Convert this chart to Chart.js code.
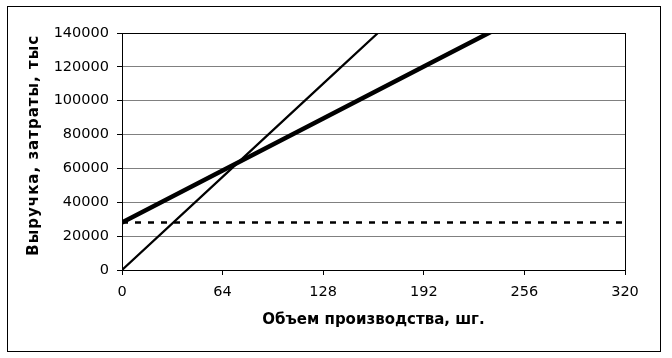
<!DOCTYPE html>
<html>
<head>
<meta charset="utf-8">
<script src="https://cdn.jsdelivr.net/npm/chart.js@4"></script>
<style>
  html, body { margin: 0; padding: 0; background: #fff; }
  #wrap { position: relative; width: 672px; height: 358px; }
  #frame { position: absolute; left: 7px; top: 6px; width: 654px; height: 346px; box-sizing: border-box; border: 1px solid #000; pointer-events: none; }
  canvas { position: absolute; left: 0; top: 0; }
</style>
</head>
<body>
<div id="wrap">
  <canvas id="chart" width="672" height="358"></canvas>
  <div id="frame"></div>
</div>
<script>
// --- Data ---
const VOLUME = [0, 64, 128, 192, 256, 320];
const REVENUE = [0, 55040, 110080, 165120, 220160, 275200];
const TOTAL_COST = [28000, 58720, 89440, 120160, 150880, 181600];
const FIXED_COST = [28000, 28000, 28000, 28000, 28000, 28000];

const X_TITLE = "Объем производства, шг.";
// leading spaces nudge the rotated title up a little, as in the original
const Y_TITLE = "  Выручка, затраты, тыс";

const toPoints = (ys) => VOLUME.map((x, i) => ({ x, y: ys[i] }));

const tickFont = { family: "DejaVu Sans", size: 14.5 };
const titleFont = { family: "DejaVu Sans", size: 15, weight: "bold" };

// the rotated y title in the original is spaced out a bit wider
const spacedYTitle = {
  id: "spacedYTitle",
  beforeDraw(chart) {
    const s = chart.scales.y;
    if (!s || s._spaced) return;
    const orig = s.drawTitle.bind(s);
    s.drawTitle = function () {
      chart.ctx.save();
      chart.ctx.letterSpacing = "1px";
      orig();
      chart.ctx.restore();
    };
    s._spaced = true;
  }
};

new Chart(document.getElementById("chart"), {
  type: "scatter",
  data: {
    datasets: [
      { data: toPoints(REVENUE), borderColor: "#000", borderWidth: 2.2, showLine: true, pointRadius: 0, clip: 0 },
      { data: toPoints(TOTAL_COST), borderColor: "#000", borderWidth: 4.5, showLine: true, pointRadius: 0, clip: 0 },
      { data: toPoints(FIXED_COST), borderColor: "#000", borderWidth: 2.5, borderDash: [6, 7], showLine: true, pointRadius: 0, clip: 0 }
    ]
  },
  options: {
    responsive: false,
    animation: false,
    layout: { padding: { left: 25, right: 47, top: 33, bottom: 29 } },
    plugins: { legend: { display: false }, tooltip: { enabled: false } },
    scales: {
      x: {
        type: "linear", min: 0, max: 320,
        afterFit: (s) => { s.height = 59; },
        ticks: { stepSize: 64, color: "#000", font: tickFont, padding: 9, maxRotation: 0, callback: (v) => String(v) },
        grid: { color: (c) => c.tick && c.tick.value === 320 ? "#000" : "rgba(0,0,0,0)", tickColor: "#000", tickLength: 5, lineWidth: 1 },
        border: { color: "#000", width: 1 },
        title: { display: true, text: X_TITLE, color: "#000", font: titleFont, padding: 0 }
      },
      y: {
        min: 0, max: 140000,
        afterFit: (s) => { s.width = 97; },
        ticks: { stepSize: 20000, color: "#000", font: tickFont, padding: 8, callback: (v) => String(v) },
        grid: { color: (c) => c.tick && c.tick.value === 140000 ? "#000" : "#808080", tickColor: "#000", tickLength: 5, lineWidth: 1 },
        border: { color: "#000", width: 1 },
        title: { display: true, text: Y_TITLE, color: "#000", font: titleFont, padding: 0 }
      }
    }
  },
  plugins: [spacedYTitle]
});
</script>
</body>
</html>
